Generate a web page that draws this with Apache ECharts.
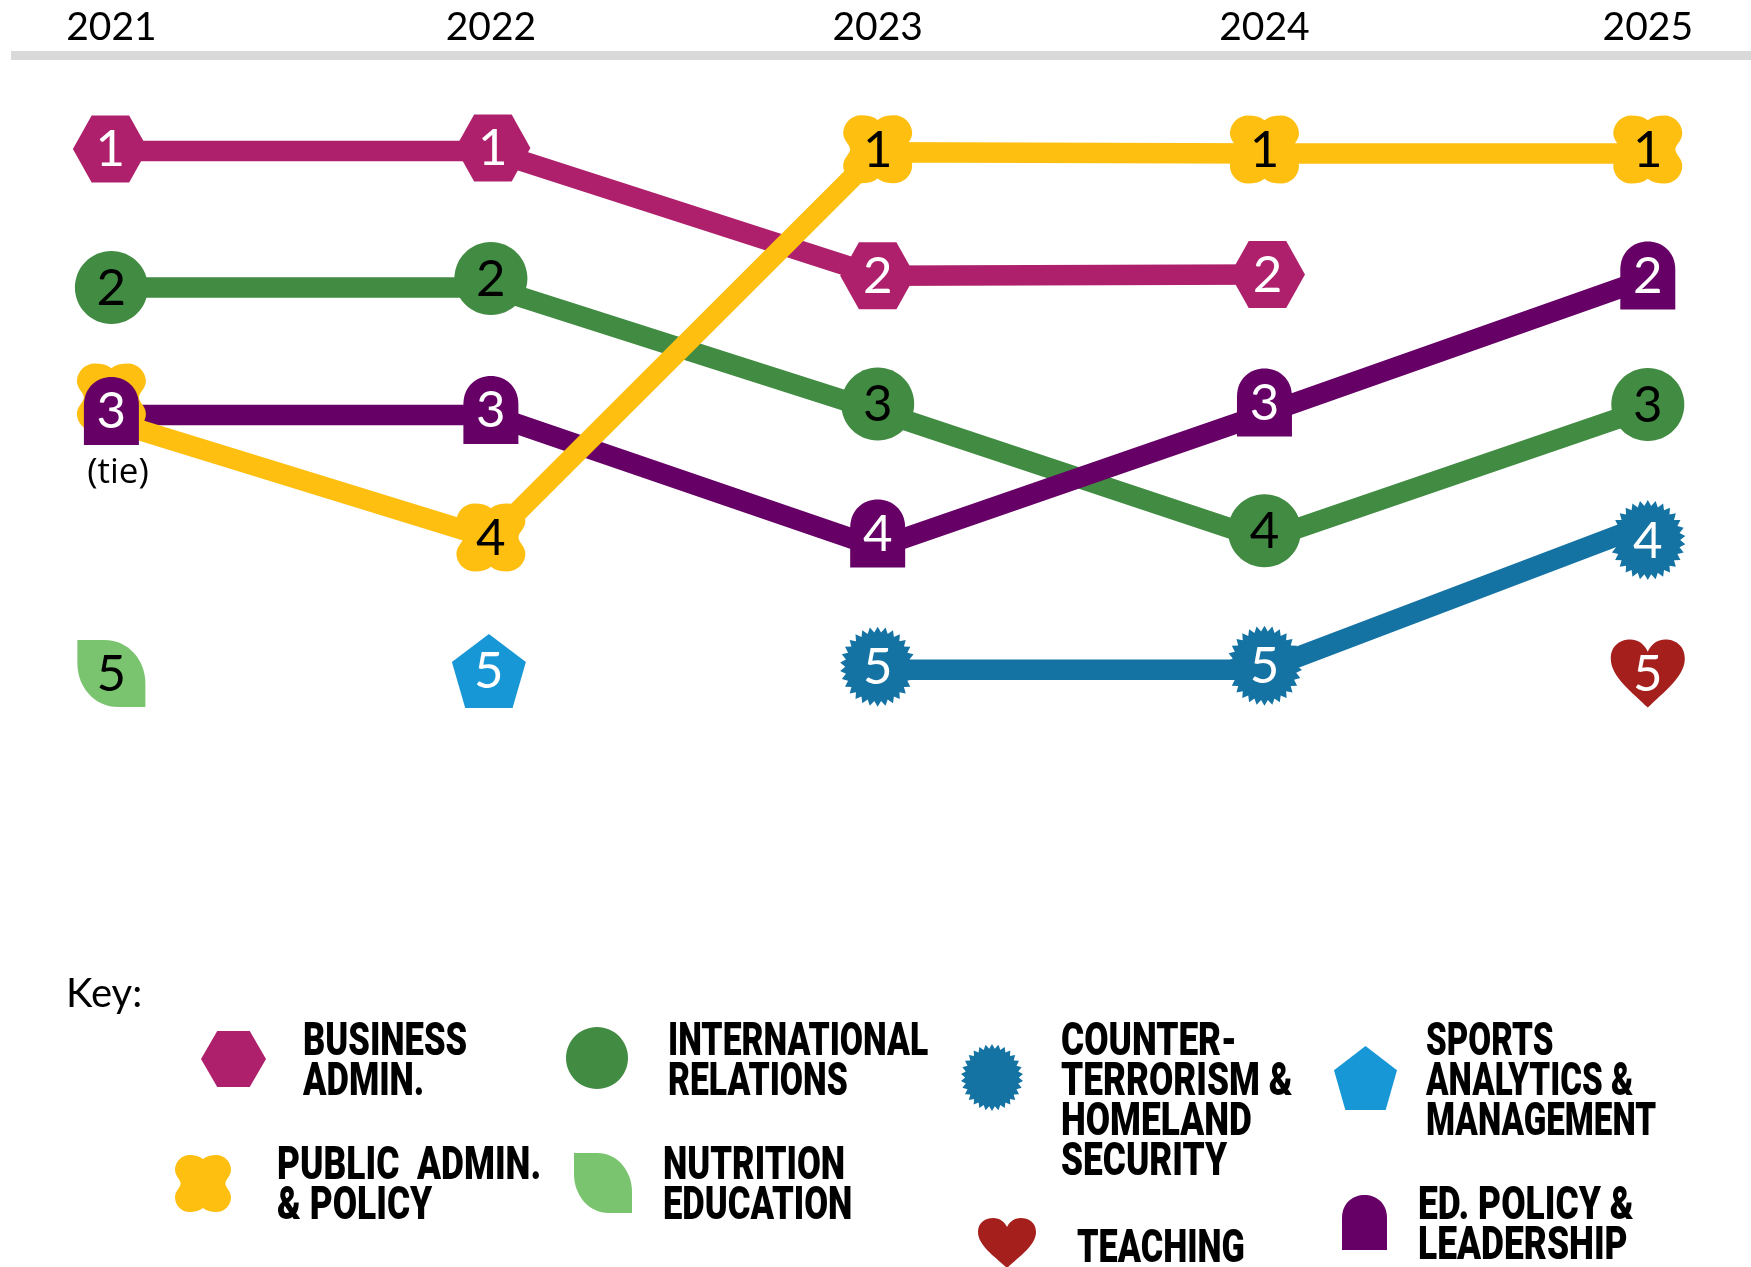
<!DOCTYPE html>
<html>
<head>
<meta charset="utf-8">
<style>html,body{margin:0;padding:0;background:#fff}#chart{width:1751px;height:1267px}</style>
<script src="https://cdn.jsdelivr.net/npm/echarts@6/dist/echarts.min.js"></script>
</head>
<body>
<div id="chart"></div>
<script>
// ---- data (rank as plotted; the printed label is the rounded rank) ----
const yearPlotted = [2021, 2021.988, 2022.995, 2024.002, 2025];

const businessAdmin  = [1.00, 1.00, 1.96, 1.95, null];
const publicAdmin    = [3.08, 3.98, 1.01, 1.02, 1.02];
const intlRelations  = [2.05, 2.05, 3.00, 3.99, 2.98];
const nutritionEd    = [5.02, null, null, null, null];
const counterTerror  = [null, null, 4.99, 4.99, 3.87];
const sportsAnalytics = [null, 5.00, null, null, null];
const edPolicy       = [3.03, 3.03, 4.05, 3.02, 1.98];
const teaching       = [null, null, null, null, 5.02];

const keyTitle = "Key:";
const tieNote = "(tie)";
const keyBusiness = "BUSINESS\nADMIN.";
const keyIntl = "INTERNATIONAL\nRELATIONS";
const keyCounter = "COUNTER-\nTERRORISM &\nHOMELAND\nSECURITY";
const keySports = "SPORTS\nANALYTICS &\nMANAGEMENT";
const keyPublic = "PUBLIC  ADMIN.\n& POLICY";
const keyNutrition = "NUTRITION\nEDUCATION";
const keyTeaching = "TEACHING";
const keyEdPolicy = "ED. POLICY &\nLEADERSHIP";

// ---- marker outlines ----
function burstPath(teeth) {
  let d = "";
  for (let i = 0; i < teeth * 2; i++) {
    const a = Math.PI * i / teeth, r = i % 2 ? 43 : 50;
    d += (i ? "L" : "M") + (50 + r * Math.sin(a)).toFixed(2) + " " + (50 - r * Math.cos(a)).toFixed(2);
  }
  return d + "Z";
}
const shapes = {
  hexagon: "M0 50L25 0L75 0L100 50L75 100L25 100Z",
  circle: "M50 0C77.6 0 100 22.4 100 50C100 77.6 77.6 100 50 100C22.4 100 0 77.6 0 50C0 22.4 22.4 0 50 0Z",
  scallop: "M50 7C44 2 36 0 26 0C12 0 0 12 0 26C0 37 10 43 10 50C10 57 0 63 0 74C0 88 12 100 26 100C36 100 44 98 50 93C56 98 64 100 74 100C88 100 100 88 100 74C100 63 90 57 90 50C90 43 100 37 100 26C100 12 88 0 74 0C64 0 56 2 50 7Z",
  dome: "M0 100L0 42C0 -14 100 -14 100 42L100 100Z",
  leaf: "M0 0L40 0C75 0 100 30 100 65L100 100L60 100C25 100 0 70 0 35Z",
  pentagon: "M50 0L100 38L82 100L18 100L0 38Z",
  burst: burstPath(30),
  heart: "M50 100C30 78 0 55 0 28C0 8 14 0 26 0C38 0 46 8 50 18C54 8 62 0 74 0C86 0 100 8 100 28C100 55 70 78 50 100Z"
};

// ---- series styling; markers sit a little off the line ends in the original ----
const lineOrder = [
  { values: businessAdmin, color: "#AE206C" },
  { values: intlRelations, color: "#418B42" },
  { values: edPolicy, color: "#660066" },
  { values: counterTerror, color: "#1473A3" },
  { values: publicAdmin, color: "#FEBF10" }
];
const markerOrder = [
  { values: businessAdmin, color: "#AE206C", shape: "hexagon", size: [75, 67], text: "#fff", dy: [-2, -3, 0, 0, 0], dx: [-1, 2, 0, 3, 0] },
  { values: intlRelations, color: "#418B42", shape: "circle", size: [73, 73], text: "#000", dy: [0, -9, -7, -9, -4], dx: [0, 0, 0, 0, 0] },
  { values: counterTerror, color: "#1473A3", shape: "burst", size: [75, 80], text: "#fff", dy: [0, 0, -3, -4, 16], dx: [0, 0, 0, 0, 0] },
  { values: publicAdmin, color: "#FEBF10", shape: "scallop", size: [69, 68], text: "#000", dy: [-24, -1, -3, -4, -4], dx: [0, 0, 0, 0, 0], hideLabelAt: [0] },
  { values: edPolicy, color: "#660066", shape: "dome", size: [55, 68], text: "#fff", dy: [-4, -5, -14, -11, -3], dx: [0, 0, 0, 0, 0] },
  { values: nutritionEd, color: "#7AC46F", shape: "leaf", size: [68, 67], text: "#000", dy: [0, 0, 0, 0, 0], dx: [0, 0, 0, 0, 0] },
  { values: sportsAnalytics, color: "#1897D6", shape: "pentagon", size: [74, 74], text: "#fff", dy: [0, 0, 0, 0, 0], dx: [0, -2, 0, 0, 0] },
  { values: teaching, color: "#A5201D", shape: "heart", size: [74, 68], text: "#fff", dy: [0, 0, 0, 0, 0], dx: [0, 0, 0, 0, 0] }
];

const series = [];
lineOrder.forEach(s => {
  series.push({
    type: "line",
    z: 2,
    silent: true,
    showSymbol: false,
    symbol: "none",
    connectNulls: false,
    lineStyle: { color: s.color, width: 20.5, cap: "butt", join: "miter" },
    data: s.values.map((v, i) => [yearPlotted[i], v])
  });
});
markerOrder.forEach(s => {
  const points = [];
  s.values.forEach((v, i) => {
    if (v === null) return;
    const hide = s.hideLabelAt && s.hideLabelAt.includes(i);
    points.push({
      value: [yearPlotted[i], v],
      symbolOffset: [s.dx[i], s.dy[i]],
      label: { show: !hide, formatter: String(Math.round(v)) }
    });
  });
  series.push({
    type: "scatter",
    z: 3,
    silent: true,
    symbol: "path://" + shapes[s.shape],
    symbolSize: s.size,
    itemStyle: { color: s.color, opacity: 1 },
    label: {
      show: true, position: "inside", color: s.text,
      fontFamily: "Lato", fontSize: 51, lineHeight: 51, offset: [0, 1]
    },
    data: points
  });
});

// ---- the key ----
function keyText(text, x, capTop, scaleX) {
  return {
    type: "text", x: x, y: capTop + 1.5, scaleX: scaleX, silent: true,
    style: { text: text, font: "900 47px Roboto", fill: "#000", lineHeight: 40, verticalAlign: "top", align: "left" }
  };
}
const keyMarks = [
  ["hexagon", "#AE206C", 201, 1031, 65, 56],
  ["circle", "#418B42", 566, 1027, 62, 62],
  ["burst", "#1473A3", 961, 1044, 62, 67],
  ["pentagon", "#1897D6", 1334, 1046, 63, 64],
  ["scallop", "#FEBF10", 175, 1155, 56, 57],
  ["leaf", "#7AC46F", 574, 1153, 58, 60],
  ["heart", "#A5201D", 978, 1218, 58, 50],
  ["dome", "#660066", 1342, 1195, 45, 55]
];
series.push({
  type: "custom",
  coordinateSystem: "none",
  silent: true,
  clip: false,
  data: keyMarks.map((m, i) => [i]),
  renderItem: function (params) {
    const m = keyMarks[params.dataIndex];
    return {
      type: "path",
      shape: { pathData: shapes[m[0]], layout: "cover", x: m[2], y: m[3], width: m[4], height: m[5] },
      style: { fill: m[1] }
    };
  }
});
const graphicElements = [
  { type: "text", x: 66, y: 994, silent: true, style: { text: keyTitle, font: "40px Lato", fill: "#000", verticalAlign: "middle" } },
  { type: "text", x: 118, y: 473, silent: true, style: { text: tieNote, font: "35px 'Open Sans'", fill: "#000", align: "center", verticalAlign: "middle" } },
  keyText(keyBusiness, 303, 1022, 0.735),
  keyText(keyIntl, 668, 1022, 0.717),
  keyText(keyCounter, 1061, 1022, 0.75),
  keyText(keySports, 1426, 1022, 0.705),
  keyText(keyPublic, 277, 1146, 0.752),
  keyText(keyNutrition, 663, 1146, 0.736),
  keyText(keyTeaching, 1077, 1229, 0.728),
  keyText(keyEdPolicy, 1418, 1186, 0.753)
];

const chart = echarts.init(document.getElementById("chart"), null, { renderer: "canvas" });
chart.setOption({
  animation: false,
  backgroundColor: "#fff",
  grid: { left: 11, top: 55.5, width: 1740, height: 680 },
  xAxis: {
    type: "value",
    position: "top",
    min: 2020.7386,
    max: 2025.2687,
    splitLine: { show: false },
    axisTick: { show: false },
    axisLine: { show: true, onZero: false, lineStyle: { color: "#D9D9D9", width: 9, cap: "butt" } },
    axisLabel: {
      show: true,
      customValues: yearPlotted,
      formatter: v => String(Math.round(v)),
      color: "#000", fontFamily: "Lato", fontSize: 39, margin: 9
    }
  },
  yAxis: { type: "value", inverse: true, min: 0.2654, max: 5.4962, show: false },
  series: series,
  graphic: { elements: graphicElements }
});
</script>
</body>
</html>
